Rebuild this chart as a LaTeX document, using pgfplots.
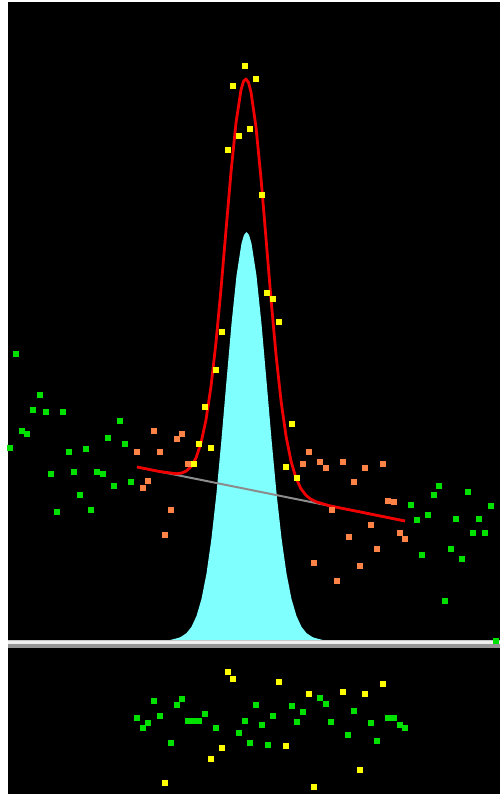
\documentclass[border=0pt]{standalone}
\usepackage{pgfplots}
\pgfplotsset{compat=1.18}
\definecolor{ptgreen}{RGB}{0,225,0}
\definecolor{ptyellow}{RGB}{255,255,0}
\definecolor{ptorange}{RGB}{255,130,70}
\definecolor{fitcyan}{RGB}{128,255,255}
\definecolor{fitred}{RGB}{240,0,0}
\begin{document}
\begin{tikzpicture}
\begin{axis}[
  scale only axis, width=250pt, height=397pt,
  xmin=0, xmax=500, ymin=0, ymax=794, y dir=reverse,
  axis line style={draw=none}, ticks=none,
  axis background/.style={fill=white},
  clip=true,
]
% black panel
\addplot[fill=black, draw=none] coordinates {(8,2) (500,2) (500,794) (8,794)} -- cycle;
% cyan component
\addplot[fill=fitcyan, draw=none] coordinates {
(170,640) (176.5,638.4) (180.5,637.1) (186.5,633.1) (191.5,626.8) (196.5,616.0)
(201.5,598.9) (206.5,573.5) (211.5,538.2) (216.5,493.0) (221.5,439.1) (226.5,380.8)
(231.5,323.9) (236.5,275.7) (241.5,243.4) (244,234.9) (246.5,232) (249,234.9)
(251.5,243.4) (256.5,275.7) (261.5,323.9) (266.5,380.8) (271.5,439.1) (276.5,493.0)
(281.5,538.2) (286.5,573.5) (291.5,598.9) (296.5,616.0) (301.5,626.8) (306.5,633.1)
(312.5,637.1) (316.5,638.4) (323,640)} -- cycle;
% separator bar
\addplot[fill={rgb,255:red,200;green,200;blue,200}, draw=none] coordinates {(8,639.5) (500,639.5) (500,641) (8,641)} -- cycle;
\addplot[fill={rgb,255:red,240;green,240;blue,240}, draw=none] coordinates {(8,641) (500,641) (500,643.5) (8,643.5)} -- cycle;
\addplot[fill={rgb,255:red,150;green,150;blue,150}, draw=none] coordinates {(8,643.5) (500,643.5) (500,647.5) (8,647.5)} -- cycle;
% gray baseline
\addplot[color={rgb,255:red,140;green,140;blue,140}, line width=1pt] coordinates {(137,467) (405,521)};
% red fit
\addplot[color=fitred, line width=1.4pt, line join=round] coordinates {
(137,467) (160,471.6) (176,473.7) (181,473.2) (186,471.2) (191,466.7) (196,458.0)
(201,443.0) (206,419.8) (211,386.5) (216,342.4) (221,289.0) (226,230.2) (231,172.2)
(236,122.9) (241,89.9) (243.5,81.4) (246,79.0) (248.5,82.5) (251,92.0) (256,127.0)
(261,178.3) (266,238.3) (271,299.1) (276,354.5) (281,400.6) (286,435.9) (291,461.1)
(296,478.1) (301,488.8) (306,495.3) (311,499.3) (316,501.8) (330,505.9) (360,511.9) (405,521.0)};
% green points (main)
\addplot[only marks, mark=square*, mark size=1.1pt, color=ptgreen] coordinates {
(16,354) (40,395) (33,410) (46,412) (63,412) (22,431) (27,434) (10,448) (120,421)
(108,438) (125,444) (69,452) (86,449) (51,474) (74,472) (97,472) (103,474) (114,486)
(131,482) (80,495) (57,512) (91,510)
(439,486) (434,495) (468,492) (411,505) (491,506) (428,515) (417,520) (456,519)
(479,519) (473,533) (485,533) (422,555) (451,549) (462,559) (445,601) (496,641)};
% orange points
\addplot[only marks, mark=square*, mark size=1.1pt, color=ptorange] coordinates {
(154,431) (182,434) (177,439) (137,452) (160,452) (188,464) (148,481) (143,488)
(171,510) (165,535)
(309,452) (303,464) (320,462) (326,468) (343,462) (365,468) (383,464) (354,482)
(388,501) (394,502) (332,510) (371,525) (349,537) (400,533) (405,539) (377,549)
(314,563) (360,566) (337,581)};
% yellow points (main)
\addplot[only marks, mark=square*, mark size=1.1pt, color=ptyellow] coordinates {
(245,66) (233,86) (256,79) (250,129) (239,136) (228,150) (262,195) (267,293)
(273,299) (279,322) (222,332) (216,370) (205,407) (199,444) (211,448) (194,464)
(292,424) (286,467) (297,478)};
% residuals green
\addplot[only marks, mark=square*, mark size=1.1pt, color=ptgreen] coordinates {
(154,701) (182,699) (177,705) (137,718) (160,716) (148,723) (143,728) (188,721)
(194,721) (199,721) (205,714) (216,728) (171,743) (245,721) (239,733) (250,743)
(320,698) (326,704) (256,705) (292,706) (303,712) (273,716) (354,711) (262,725)
(297,722) (331,722) (371,723) (388,718) (394,718) (400,725) (405,728) (348,735)
(377,741) (268,745)};
% residuals yellow
\addplot[only marks, mark=square*, mark size=1.1pt, color=ptyellow] coordinates {
(228,672) (233,679) (222,748) (211,759) (165,783) (279,682) (309,694) (343,692)
(365,694) (383,684) (286,746) (360,770) (314,787)};
\end{axis}
\end{tikzpicture}
\end{document}
